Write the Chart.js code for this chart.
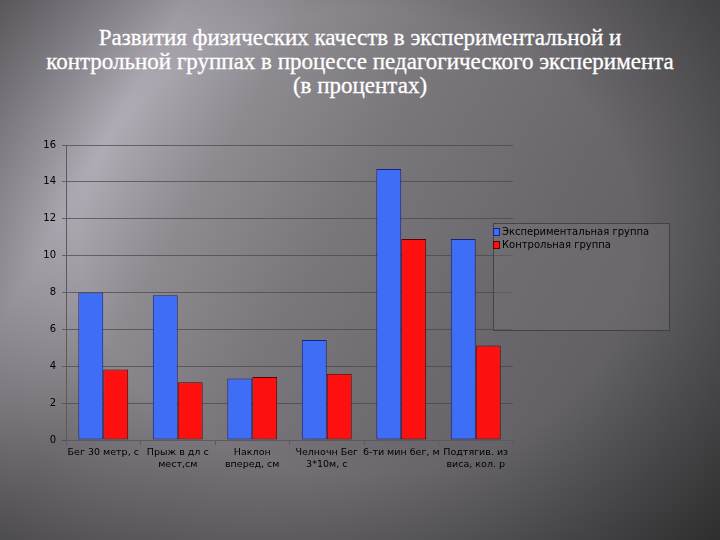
<!DOCTYPE html>
<html>
<head>
<meta charset="utf-8">
<script src="https://cdn.jsdelivr.net/npm/chart.js@4/dist/chart.umd.min.js"></script>
<style>
  html, body {
    margin: 0;
    padding: 0;
  }

  body {
    width: 720px;
    height: 540px;
    overflow: hidden;
    position: relative;
    background:
      radial-gradient(ellipse at 50% 45%, rgba(0, 0, 0, 0) 55%, rgba(0, 0, 0, 0.45) 100%),
      linear-gradient(120deg, #8c8890 0%, #b0abb4 18%, #8d8a90 30%, #7a777c 45%, #6a686c 65%, #555456 100%);
  }

  h1 {
    position: absolute;
    left: 0;
    top: 26px;
    width: 720px;
    margin: 0;
    text-align: center;
    color: #fff;
    font-family: "Liberation Serif", "DejaVu Serif", serif;
    font-weight: normal;
    font-size: 23px;
    line-height: 24px;
    -webkit-text-stroke: 0.3px #fff;
  }

  canvas {
    position: absolute;
    left: 0;
    top: 0;
  }
</style>
</head>
<body>
<h1>Развития физических качеств в экспериментальной и<br>контрольной группах в процессе педагогического эксперимента<br>(в процентах)</h1>
<canvas id="chart" width="720" height="540"></canvas>
<script>
const categories = [
  ["Бег 30 метр, с"],
  ["Прыж в дл с", "мест,см"],
  ["Наклон", "вперед, см"],
  ["Челночн Бег", "3*10м, с"],
  ["6-ти мин бег, м"],
  ["Подтягив. из", "виса, кол. р"],
];
const experimental = [8.0, 7.85, 3.33, 5.42, 14.7, 10.9];
const control = [3.83, 3.13, 3.42, 3.6, 10.9, 5.13];
const seriesNames = ["Экспериментальная группа", "Контрольная группа"];

const legendBox = {
  id: "legendBox",
  afterDraw(chart) {
    const ctx = chart.ctx;
    ctx.save();
    ctx.fillStyle = "rgba(120, 118, 122, 0.35)";
    ctx.fillRect(493, 223, 176, 107);
    ctx.strokeStyle = "rgba(60, 58, 62, 0.8)";
    ctx.lineWidth = 1;
    ctx.strokeRect(493.5, 223.5, 176, 107);
    ctx.font = "10px 'DejaVu Sans', sans-serif";
    ctx.textBaseline = "middle";
    const swatches = [["#3d6ef5", "#1a237e"], ["#ff1010", "#5a0000"]];
    seriesNames.forEach((name, i) => {
      const y = 232 + i * 13;
      ctx.fillStyle = swatches[i][0];
      ctx.fillRect(493, y - 4, 7, 8);
      ctx.strokeStyle = swatches[i][1];
      ctx.strokeRect(493.5, y - 3.5, 6, 7);
      ctx.fillStyle = "#000";
      ctx.fillText(name, 502, y);
    });
    ctx.restore();
  },
};

new Chart(document.getElementById("chart"), {
  type: "bar",
  data: {
    labels: categories,
    datasets: [
      {
        label: seriesNames[0],
        data: experimental,
        backgroundColor: "#3d6ef5",
        borderColor: "#1a237e",
        borderWidth: 1,
        borderSkipped: false,
      },
      {
        label: seriesNames[1],
        data: control,
        backgroundColor: "#ff1010",
        borderColor: "#5a0000",
        borderWidth: 1,
        borderSkipped: false,
      },
    ],
  },
  options: {
    responsive: false,
    animation: false,
    layout: {
      padding: { left: 34, right: 207, top: 145, bottom: 58 },
    },
    datasets: {
      bar: {
        categoryPercentage: 0.67,
        barPercentage: 1,
      },
    },
    plugins: {
      legend: { display: false },
      tooltip: { enabled: false },
    },
    scales: {
      x: {
        grid: {
          display: true,
          drawOnChartArea: false,
          offset: true,
          tickLength: 5,
          color: "#5a5a5e",
        },
        border: { color: "#5a5a5e" },
        ticks: {
          color: "#000",
          font: { family: "'DejaVu Sans', sans-serif", size: 9.5 },
          maxRotation: 0,
          autoSkip: false,
          padding: 2,
        },
        afterFit(scale) {
          scale.height = 42;
        },
      },
      y: {
        min: 0,
        max: 16,
        ticks: {
          stepSize: 2,
          color: "#000",
          font: { family: "'DejaVu Sans', sans-serif", size: 10 },
          padding: 6,
        },
        grid: {
          color: "rgba(70, 70, 74, 0.7)",
          tickLength: 4,
        },
        border: { color: "#5a5a5e" },
        afterFit(scale) {
          scale.width = 32;
        },
      },
    },
  },
  plugins: [legendBox],
});
</script>
</body>
</html>
